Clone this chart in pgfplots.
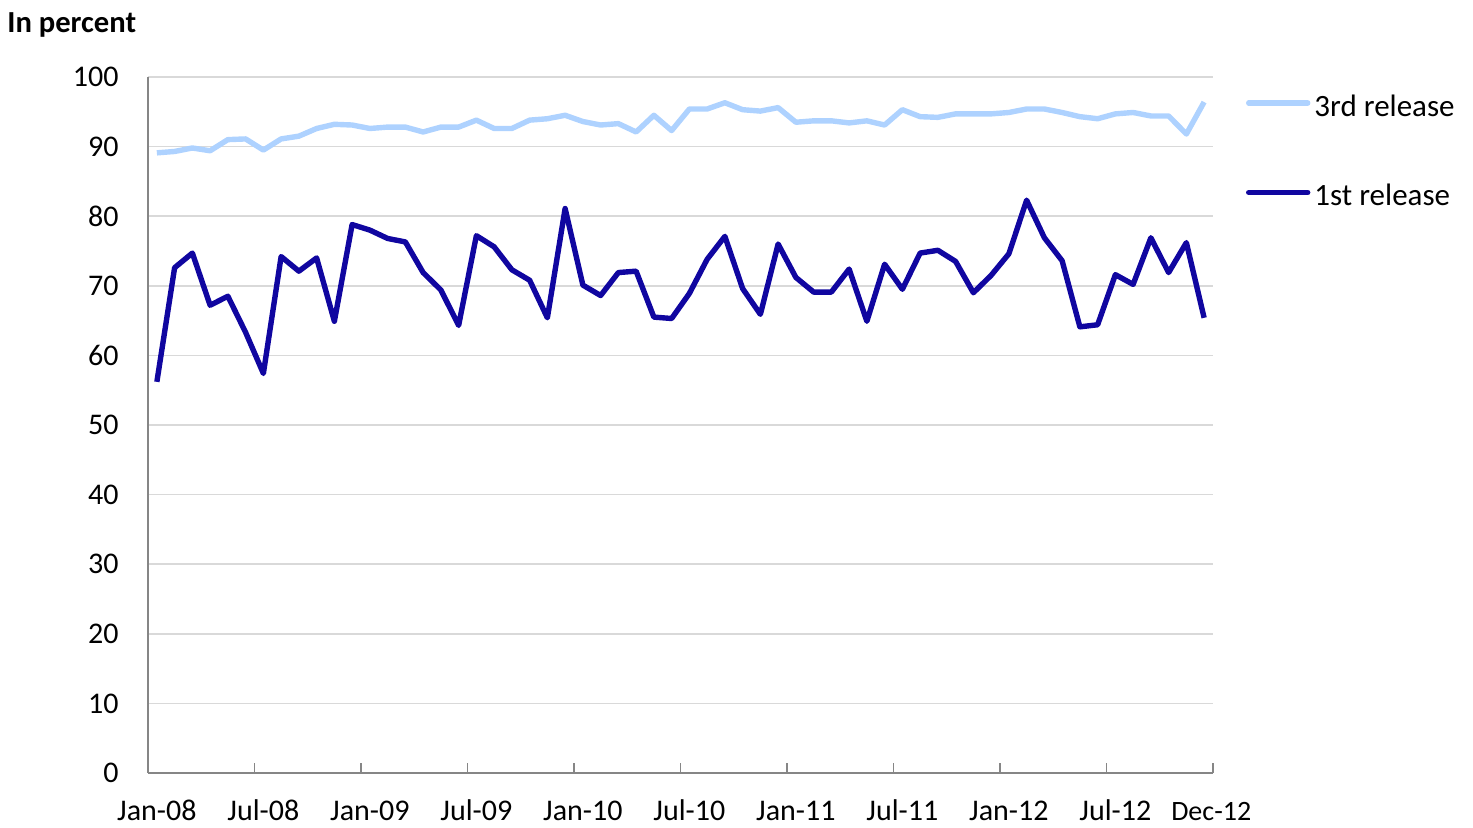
\documentclass[border=0pt]{standalone}
\usepackage{fontspec}
\setmainfont{Carlito}
\usepackage{pgfplots}
\pgfplotsset{compat=1.18}
\usepackage{pgfplotstable}
\definecolor{darkrel}{RGB}{16,6,160}
\definecolor{lightrel}{RGB}{174,210,255}
\definecolor{gridc}{RGB}{217,217,217}
\definecolor{axisc}{RGB}{134,134,134}
\pgfplotstableread{
m first third
0 56.2 89.1
1 72.6 89.3
2 74.7 89.8
3 67.2 89.4
4 68.5 91.0
5 63.3 91.1
6 57.4 89.5
7 74.2 91.1
8 72.1 91.5
9 74.0 92.6
10 64.9 93.2
11 78.8 93.1
12 78.0 92.6
13 76.8 92.8
14 76.3 92.8
15 71.9 92.1
16 69.4 92.8
17 64.3 92.8
18 77.2 93.8
19 75.6 92.6
20 72.3 92.6
21 70.8 93.8
22 65.4 94.0
23 81.1 94.5
24 70.1 93.6
25 68.6 93.1
26 71.9 93.3
27 72.1 92.1
28 65.5 94.5
29 65.3 92.3
30 68.9 95.4
31 73.8 95.4
32 77.1 96.3
33 69.6 95.3
34 65.9 95.1
35 76.0 95.6
36 71.2 93.5
37 69.1 93.7
38 69.1 93.7
39 72.4 93.4
40 64.9 93.7
41 73.1 93.1
42 69.5 95.3
43 74.7 94.3
44 75.1 94.2
45 73.5 94.7
46 69.0 94.7
47 71.5 94.7
48 74.6 94.9
49 82.3 95.4
50 76.9 95.4
51 73.6 94.9
52 64.1 94.3
53 64.4 94.0
54 71.6 94.7
55 70.2 94.9
56 76.9 94.4
57 71.9 94.4
58 76.2 91.8
59 65.4 96.4
}\datatable
\begin{document}
\begin{tikzpicture}
\begin{axis}[
  at={(0,0)}, anchor=south west,
  scale only axis,
  width=532.5pt, height=348pt,
  xmin=-0.5, xmax=59.5,
  ymin=0, ymax=100,
  axis x line*=bottom, axis y line*=left,
  axis line style={axisc, line width=0.75pt, -},
  ytick={0,10,...,100},
  ymajorgrids,
  grid style={gridc, line width=0.75pt},
  xtick={0,6,...,54},
  xticklabels={Jan-08,Jul-08,Jan-09,Jul-09,Jan-10,Jul-10,Jan-11,Jul-11,Jan-12,Jul-12},
  minor xtick={-0.5,5.5,...,59.5},
  major tick length=0pt,
  minor tick length=5pt,
  tick align=inside,
  minor tick style={axisc, line width=0.75pt},
  extra x ticks={59.4},
  extra x tick labels={Dec-12},
  extra x tick style={major tick length=0pt, xticklabel style={font=\fontsize{14}{16}\selectfont}},
  /pgf/number format/assume math mode=true,
  yticklabel style={font=\fontsize{15}{18}\selectfont, inner sep=0pt, anchor=east, xshift=-14.5pt},
  xticklabel style={font=\fontsize{15}{18}\selectfont, inner sep=0pt, anchor=base, yshift=-23.8pt},
  legend style={at={(1.0310,0.9745)}, anchor=north west, draw=none, fill=none,
    inner sep=0pt, outer sep=0pt, row sep=32.5pt, /tikz/column sep=2pt,
    font=\fontsize{15.5}{18}\selectfont, nodes={inner sep=0pt}},
  legend cell align=left,
  legend image code/.code={\draw[#1, line cap=round] (0pt,2pt) -- (29.5pt,2pt);},
]
\addplot[lightrel, line width=2.7pt, line join=round] table[x=m, y=third] {\datatable};
\addlegendentry{3rd release}
\addplot[darkrel, line width=2.7pt, line join=round] table[x=m, y=first] {\datatable};
\addlegendentry{1st release}
\end{axis}
\node[anchor=base west, inner sep=0pt, font=\bfseries\fontsize{15.3}{18}\selectfont] at (-70.5pt,370pt) {In percent};
\pgfresetboundingbox
\path (-74pt,-27.5pt) rectangle (662.5pt,386.5pt);
\end{tikzpicture}
\end{document}
